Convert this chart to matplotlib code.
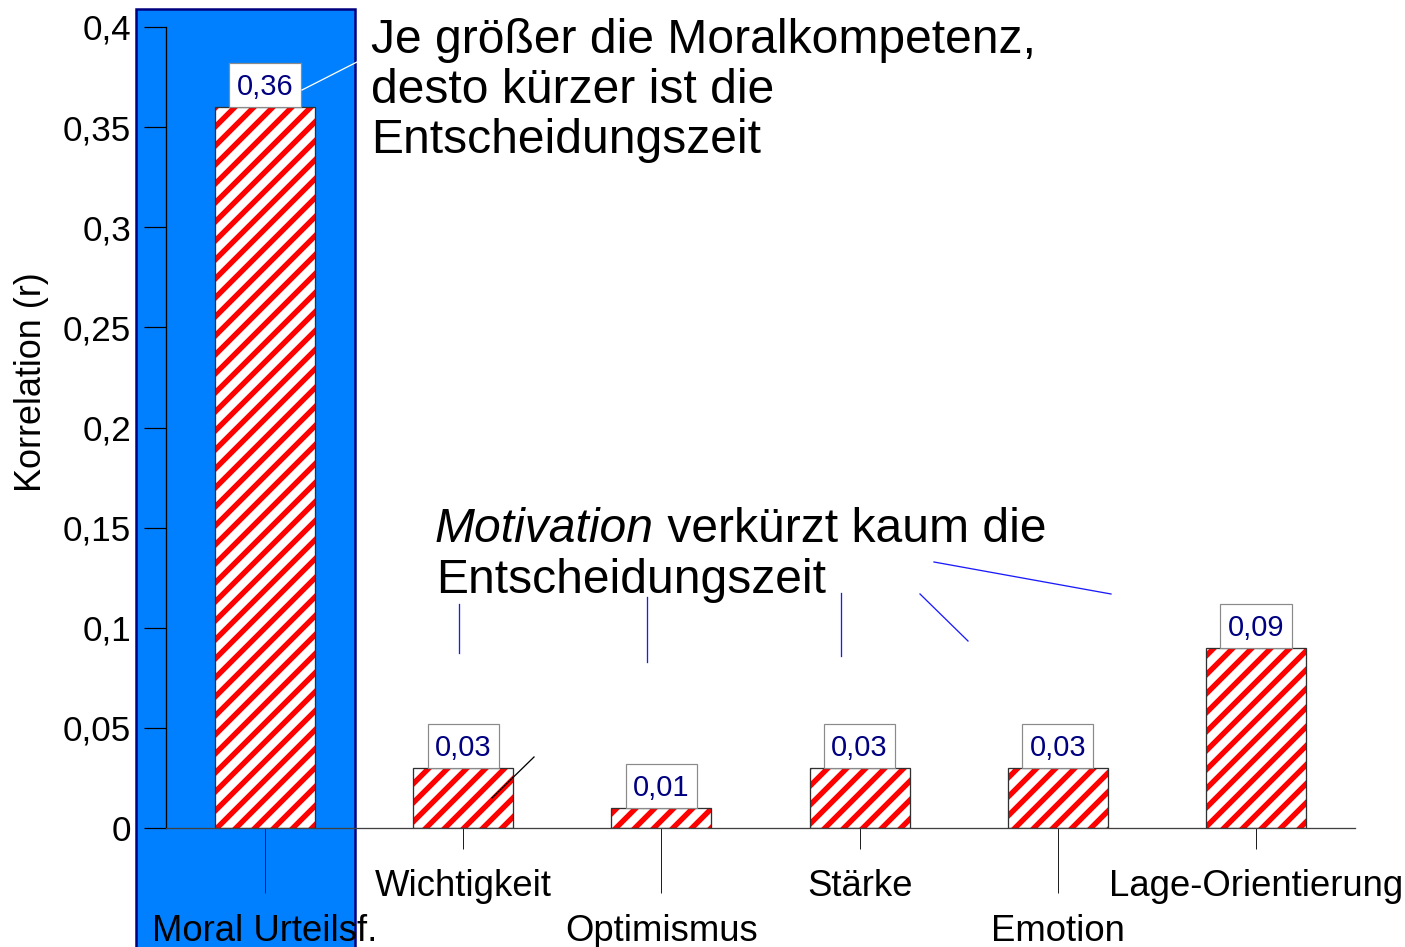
import matplotlib
matplotlib.use('Agg')
import matplotlib.pyplot as plt
from matplotlib.patches import Rectangle
from matplotlib.lines import Line2D
from matplotlib.ticker import NullLocator
import numpy as np

# ---------------- data ----------------
categories = ["Moral Urteilsf.", "Wichtigkeit", "Optimismus", "Stärke", "Emotion", "Lage-Orientierung"]
values = [0.36, 0.03, 0.01, 0.03, 0.03, 0.09]
value_labels = ["0,36", "0,03", "0,01", "0,03", "0,03", "0,09"]
yticks = [0.0, 0.05, 0.1, 0.15, 0.2, 0.25, 0.3, 0.35, 0.4]
ytick_labels = ["0", "0,05", "0,1", "0,15", "0,2", "0,25", "0,3", "0,35", "0,4"]
ylabel = "Korrelation (r)"
note1_lines = ["Je größer die Moralkompetenz,", "desto kürzer ist die", "Entscheidungszeit"]
note2_italic = "Motivation"
note2_rest = " verkürzt kaum die"
note2_line2 = "Entscheidungszeit"

# ---------------- setup ----------------
W, H = 1405, 947
DPI = 114
plt.rcParams['font.family'] = ['Liberation Sans', 'DejaVu Sans']
plt.rcParams['hatch.linewidth'] = 3.4
plt.rcParams['hatch.color'] = 'red'


def pt(p):
    return p * 72.0 / DPI


def fx(x):
    return x / W


def fy(y):
    return 1 - y / H


fig = plt.figure(figsize=(W / DPI, H / DPI), dpi=DPI)
fig.patch.set_facecolor('white')

ax = fig.add_axes([fx(166), fy(828), (1355 - 166) / W, (828 - 27) / H])
ax.set_facecolor('none')
ax.set_xlim(-0.5, 5.5)
ax.set_ylim(0, 0.4)

# highlight panel behind the first category
fig.add_artist(Rectangle((fx(136), fy(960)), (355 - 136) / W, (960 - 9) / H,
                         transform=fig.transFigure, facecolor='#0080ff',
                         edgecolor='#000080', linewidth=pt(2.5), zorder=-1))

# ---------------- bars ----------------
x = np.arange(len(categories))
bw = 0.505
ax.bar(x, values, width=bw, color='white', edgecolor='red', linewidth=0,
       hatch='//', zorder=2)
ax.bar(x, values, width=bw, fill=False, edgecolor='#303030',
       linewidth=pt(1.3), zorder=3)

box_w, box_h = 0.36, 0.022
for xi, v, lab in zip(x, values, value_labels):
    ax.add_patch(Rectangle((xi - box_w / 2, v), box_w, box_h, facecolor='white',
                           edgecolor='#8a8a8a', linewidth=pt(1.2), zorder=4,
                           clip_on=False))
    ax.annotate(lab, (xi, v), xytext=(0, pt(12)), textcoords='offset points',
                ha='center', va='baseline', fontsize=pt(29), color='#000080',
                zorder=5, annotation_clip=False)

# ---------------- axes styling ----------------
for s in ['top', 'right']:
    ax.spines[s].set_visible(False)
ax.spines['left'].set_color('black')
ax.spines['left'].set_linewidth(pt(1.3))
ax.spines['bottom'].set_color('#404040')
ax.spines['bottom'].set_linewidth(pt(1.3))

ax.set_xticks(x[0::2], categories[0::2])
ax.set_xticks(x[1::2], categories[1::2], minor=True)
ax.tick_params(axis='x', which='major', direction='out', length=pt(65), width=pt(1),
               color='#202020', pad=pt(21), labelsize=pt(36.5))
ax.tick_params(axis='x', which='minor', direction='out', length=pt(21), width=pt(1),
               color='#202020', pad=pt(20), labelsize=pt(36.5))

ax.set_yticks(yticks, ytick_labels)
ax.yaxis.set_minor_locator(NullLocator())
ax.tick_params(axis='y', direction='out', length=pt(22), width=pt(1.2),
               color='black', pad=pt(13), labelsize=pt(35))

ax.set_ylabel(ylabel, fontsize=pt(36))
ax.yaxis.set_label_coords((32 - 166) / 1189, (828 - 382) / 801)
ax.yaxis.label.set_va('center')

# ---------------- annotations ----------------
fs_ann = pt(48)
for i, line in enumerate(note1_lines):
    fig.text(fx(371), fy(53 + 50 * i), line, fontsize=fs_ann, va='baseline', ha='left')

t_it = fig.text(fx(435), fy(542), note2_italic, fontsize=fs_ann, style='italic',
                va='baseline', ha='left')
ax.annotate(note2_rest, xy=(1, 0), xycoords=t_it, va='bottom', ha='left',
            fontsize=fs_ann, annotation_clip=False)
fig.text(fx(436), fy(593), note2_line2, fontsize=fs_ann, va='baseline', ha='left')

leaders = [
    ((302, 90), (357, 62), 'white'),
    ((534, 757), (492, 798), 'black'),
    ((459, 604), (459, 653), '#1a1aff'),
    ((647, 597), (647, 662), '#1a1aff'),
    ((841, 593), (841, 656), '#1a1aff'),
    ((920, 594), (968, 641), '#1a1aff'),
    ((934, 562), (1111, 594), '#1a1aff'),
]
for (x0, y0), (x1, y1), c in leaders:
    fig.add_artist(Line2D([fx(x0), fx(x1)], [fy(y0), fy(y1)], color=c,
                          linewidth=pt(1.3), transform=fig.transFigure, zorder=6))

fig.savefig('out.png', dpi=DPI)
